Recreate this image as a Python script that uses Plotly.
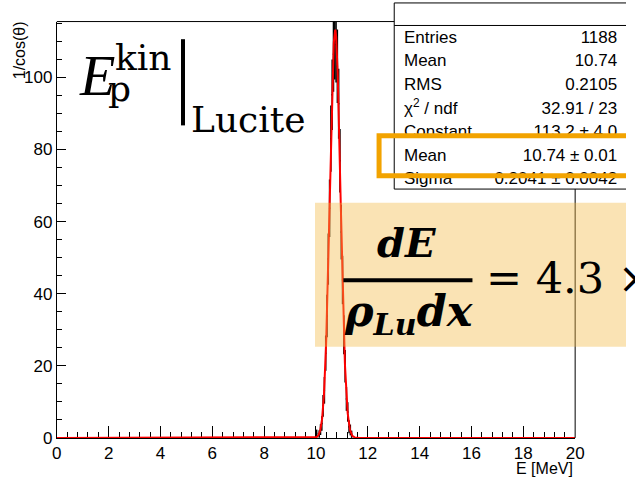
import numpy as np
import plotly.graph_objects as go

# ---- data ---------------------------------------------------------------
# Energy histogram: 0.05 MeV bins over 0-20 MeV; only the filled region is listed
BIN_WIDTH = 0.05
X_RANGE = [0.0, 20.0]
FIRST_FILLED_EDGE = 9.90
BIN_CONTENTS = [0.0, 0.0, 1.2, 0.0, 1.1, 2.3, 4.0, 8.9, 13.2, 23.5,
                33.8, 49.6, 63.7, 83.0, 95.2, 106.4, 110.0, 109.1, 103.1, 92.7,
                76.9, 57.1, 43.8, 28.6, 19.9, 10.8, 7.2, 3.1, 2.2, 1.0, 0.0]
BIN_ERRORS = [0.0, 0.0, 1.1, 0.0, 1.05, 1.5, 2.0, 3.0, 3.7, 4.9,
              5.9, 7.1, 8.0, 9.2, 9.8, 10.4, 10.6, 10.5, 10.2, 9.7,
              8.8, 7.6, 6.7, 5.4, 4.5, 3.3, 2.7, 1.8, 1.5, 1.0, 0.0]

# Gaussian fit parameters
FIT_CONSTANT = 113.2
FIT_MEAN = 10.74
FIT_SIGMA = 0.2041

Y_MAX = 115.5
X_TICKS = [0, 2, 4, 6, 8, 10, 12, 14, 16, 18, 20]
Y_TICKS = [0, 20, 40, 60, 80, 100]

STAT_LABELS = ["Entries", "Mean", "RMS", "χ<sup>2</sup> / ndf",
               "Constant", "Mean", "Sigma"]
STAT_VALUES = ["1188", "10.74", "0.2105", "32.91 / 23",
               "113.2 ± 4.0", "10.74 ± 0.01", "0.2041 ± 0.0042"]

# ---- page geometry (pixels) ---------------------------------------------
W, H = 635, 491
FRAME_L, FRAME_R, FRAME_T, FRAME_B = 53, 583, 22, 447
SANS = "Liberation Sans"
SERIF = "DejaVu Serif"

# histogram drawn as bin-width bars with vertical errors; empty bins skipped
n = len(BIN_CONTENTS)
centers = FIRST_FILLED_EDGE + BIN_WIDTH * (np.arange(n) + 0.5)
hy = [c if c > 0 else None for c in BIN_CONTENTS]

# fitted gaussian
fx = np.linspace(X_RANGE[0], X_RANGE[1], 4001)
fy = FIT_CONSTANT * np.exp(-0.5 * ((fx - FIT_MEAN) / FIT_SIGMA) ** 2)

fig = go.Figure()
fig.add_trace(go.Scatter(
    x=centers, y=hy, mode="markers",
    marker=dict(size=1, color="black"),
    error_x=dict(type="constant", value=BIN_WIDTH / 2, width=0,
                 color="black", thickness=1.5),
    error_y=dict(type="data", array=BIN_ERRORS, width=0,
                 color="black", thickness=1.5),
    xaxis="x", yaxis="y", hoverinfo="skip"))
fig.add_trace(go.Scatter(x=fx, y=fy, mode="lines",
                         line=dict(color="#ff0000", width=2),
                         xaxis="x", yaxis="y", hoverinfo="skip"))

# statistics box text (page-pixel overlay axes)
row_y = [40, 63, 88, 112, 135, 160, 183]
fig.add_trace(go.Scatter(x=[408] * len(row_y), y=row_y, mode="text",
                         text=STAT_LABELS, textposition="middle right",
                         textfont=dict(family=SANS, size=17, color="black"),
                         xaxis="x2", yaxis="y2", hoverinfo="skip"))
fig.add_trace(go.Scatter(x=[626] * len(row_y), y=row_y, mode="text",
                         text=STAT_VALUES, textposition="middle left",
                         textfont=dict(family=SANS, size=17, color="black"),
                         xaxis="x2", yaxis="y2", hoverinfo="skip"))

shapes = []
def px_line(x0, y0, x1, y1, color="black", width=1):
    shapes.append(dict(type="line", xref="x2", yref="y2", x0=x0, y0=y0,
                       x1=x1, y1=y1, line=dict(color=color, width=width)))

# frame top / right (the stats box sits over their corner)
px_line(FRAME_L, FRAME_T, 398, FRAME_T)
px_line(FRAME_R, 193, FRAME_R, FRAME_B)
# stats box outline
px_line(398, 3, 640, 3)
px_line(398, 26, 640, 26)
px_line(398, 3, 398, 193)
px_line(398, 193, 640, 193)

# highlight around the fitted mean
shapes.append(dict(type="rect", xref="x2", yref="y2", x0=382.5, x1=645,
                   y0=138.5, y1=179.5,
                   line=dict(color="#f2a300", width=5), fillcolor="rgba(0,0,0,0)"))
# shaded formula panel
shapes.append(dict(type="rect", xref="x2", yref="y2", x0=317, x1=645,
                   y0=207, y1=354, line=dict(width=0),
                   fillcolor="rgba(243,185,68,0.4)"))
# fraction bar
px_line(346, 286, 478, 286, width=4)
# evaluation bar
px_line(182, 40, 182, 128, width=4)

ann = []
def txt(x, y, s, size, family=SERIF, xanchor="left", yanchor="middle", angle=0):
    ann.append(dict(x=x, y=y, xref="x2", yref="y2", text=s, showarrow=False,
                    xanchor=xanchor, yanchor=yanchor, textangle=angle,
                    font=dict(family=family, size=size, color="black")))

# E_p^kin | Lucite
txt(74, 77, "<i>E</i>", 58, family="Liberation Serif")
txt(110, 59, "kin", 36)
txt(103, 90, "p", 36)
txt(188, 122, "Lucite", 36)
# dE / (rho_Lu dx) = 4.3 x
txt(411, 248, "<b><i>dE</i></b>", 40, xanchor="center")
txt(413, 321, "<b><i>ρ<sub>Lu</sub>dx</i></b>", 43, xanchor="center")
txt(490, 284, "= 4.3 ×", 43)
# axis titles
txt(15, 20, "1/cos(θ)", 16, family=SANS, xanchor="center", yanchor="top", angle=-90)
txt(FRAME_R, 478, "E [MeV]", 16, family=SANS, xanchor="right")

axis_common = dict(showgrid=False, zeroline=False, showline=True,
                   linecolor="black", linewidth=1, ticks="inside",
                   tickcolor="black", tickwidth=1,
                   tickfont=dict(family=SANS, size=17, color="black"),
                   layer="below traces")

fig.update_layout(
    width=W, height=H, margin=dict(l=0, r=0, t=0, b=0),
    paper_bgcolor="white", plot_bgcolor="rgba(0,0,0,0)",
    showlegend=False,
    xaxis=dict(domain=[FRAME_L / W, FRAME_R / W], range=X_RANGE,
               tickvals=X_TICKS, ticklen=12, anchor="y",
               minor=dict(dtick=0.4, tick0=0, ticks="inside", ticklen=6,
                          tickcolor="black"),
               **axis_common),
    yaxis=dict(domain=[(H - FRAME_B) / H, (H - FRAME_T) / H], range=[0, Y_MAX],
               tickvals=Y_TICKS, ticklen=9, anchor="x",
               minor=dict(dtick=5, tick0=0, ticks="inside", ticklen=5,
                          tickcolor="black"),
               **axis_common),
    xaxis2=dict(domain=[0, 1], range=[0, W], visible=False, anchor="y2"),
    yaxis2=dict(domain=[0, 1], range=[H, 0], visible=False, anchor="x2"),
    shapes=shapes, annotations=ann,
)

fig.write_html("out.html")
